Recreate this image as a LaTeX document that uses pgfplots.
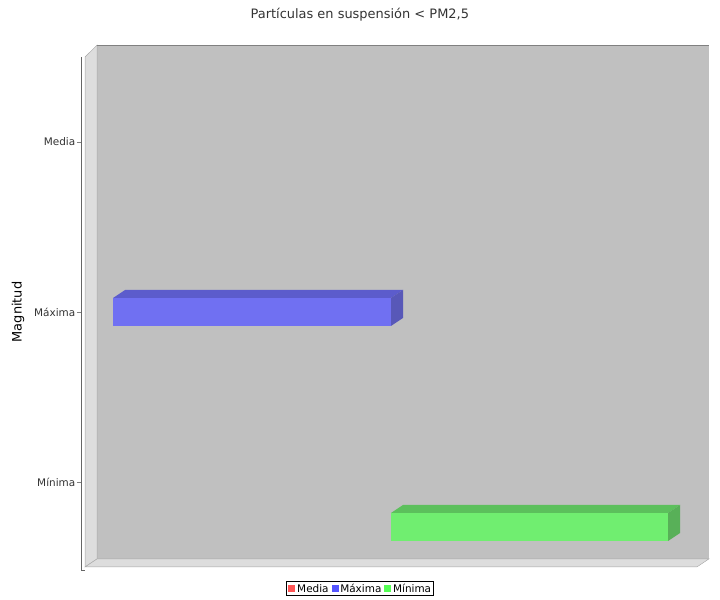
\documentclass[border=0pt]{standalone}
\usepackage{pgfplots}
\pgfplotsset{compat=1.18}
\usepackage{fontspec}
\setmainfont{DejaVu Sans}
\definecolor{wall}{HTML}{C0C0C0}
\definecolor{side}{HTML}{DDDDDD}
\definecolor{bfront}{HTML}{7070F2}
\definecolor{btop}{HTML}{5C5CCC}
\definecolor{bside}{HTML}{5858B8}
\definecolor{gfront}{HTML}{70EE70}
\definecolor{gtop}{HTML}{5CC05C}
\definecolor{gside}{HTML}{58B058}
\begin{document}
\begin{tikzpicture}
\begin{axis}[x={(6.12bp,0)},y={(0,170bp)},axis lines=none,clip=false,
  xmin=-13.9,xmax=103.76,ymin=-0.194,ymax=3.335]
\path[use as bounding box] (axis cs:-13.9,-0.194) rectangle (axis cs:103.76,3.335);
% walls
\addplot[fill=wall,draw=none] coordinates {(1.96,0.047) (101.96,0.047) (101.96,3.07) (1.96,3.07)} --cycle;
\addplot[fill=side,draw=gray!70] coordinates {(0,0) (1.96,0.047) (1.96,3.07) (0,3.0)} --cycle;
\addplot[fill=side,draw=gray!70] coordinates {(0,0) (1.96,0.047) (101.96,0.047) (100,0)} --cycle;
\addplot[gray,thin] coordinates {(1.96,3.07) (101.96,3.07)};
\addplot[gray!80!black,thin] coordinates {(-0.65,3.0) (-0.65,-0.02)};
\addplot[gray!80!black,thin] coordinates {(-0.65,-0.02) (0,-0.02)};
% Maxima bar
\addplot[fill=btop,draw=none] coordinates {(4.6,1.5824) (50,1.5824) (51.96,1.6294) (6.56,1.6294)} --cycle;
\addplot[fill=bside,draw=none] coordinates {(50,1.4176) (51.96,1.4646) (51.96,1.6294) (50,1.5824)} --cycle;
\addplot[fill=bfront,draw=none] coordinates {(4.6,1.4176) (50,1.4176) (50,1.5824) (4.6,1.5824)} --cycle;
% Minima bar
\addplot[fill=gtop,draw=none] coordinates {(50,0.3176) (95.3,0.3176) (97.26,0.3646) (51.96,0.3646)} --cycle;
\addplot[fill=gside,draw=none] coordinates {(95.3,0.153) (97.26,0.2) (97.26,0.3646) (95.3,0.3176)} --cycle;
\addplot[fill=gfront,draw=none] coordinates {(50,0.153) (95.3,0.153) (95.3,0.3176) (50,0.3176)} --cycle;
% category ticks
\foreach \yy/\lab in {2.5/Media,1.5/Máxima,0.5/Mínima}{
  \edef\tmp{\noexpand\draw[gray] (axis cs:-1.3,\yy) -- (axis cs:-0.65,\yy);
  \noexpand\node[anchor=east,font=\noexpand\fontsize{10.5}{12}\noexpand\selectfont,text=black!80,inner sep=1bp] at (axis cs:-1.4,\yy) {\lab};}\tmp}
\node[rotate=90,font=\fontsize{13}{15}\selectfont] at (axis cs:-10.95,1.5) {Magnitud};
\node[font=\fontsize{13}{15}\selectfont,text=black!80] at (axis cs:44.9,3.247) {Partículas en suspensión < PM2,5};
% legend
\node[draw=black,fill=white,inner sep=2.5bp,font=\fontsize{10.5}{12}\selectfont] at (axis cs:44.9,-0.124)
 {\textcolor[HTML]{FF5555}{\rule{7bp}{7bp}}\,Media\;\textcolor[HTML]{5555FF}{\rule{7bp}{7bp}}\,Máxima\;\textcolor[HTML]{55FF55}{\rule{7bp}{7bp}}\,Mínima};
\end{axis}
\end{tikzpicture}
\end{document}
